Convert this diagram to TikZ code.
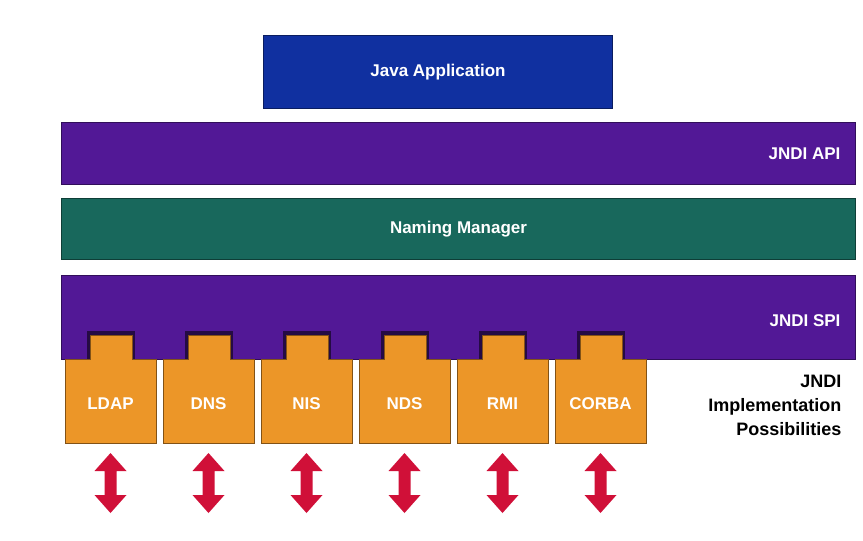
\documentclass[tikz,border=0pt]{standalone}
\usepackage{fontspec}
\setmainfont{Liberation Sans}
\usetikzlibrary{positioning}
\definecolor{javablue}{RGB}{16,48,160}
\definecolor{jndipurple}{RGB}{82,24,150}
\definecolor{nmteal}{RGB}{24,104,92}
\definecolor{provorange}{RGB}{236,150,40}
\definecolor{arrowred}{RGB}{208,16,56}

\begin{document}
\begin{tikzpicture}[
x=1pt, y=-1pt,
layer/.style={
draw=#1!60!black,
fill=#1,
line width=1pt,
rectangle,
anchor=north west,
inner sep=0pt,
font=\bfseries\fontsize{17}{20}\selectfont,
text=white
},
barlabel/.style={anchor=east, font=\bfseries\fontsize{17}{20}\selectfont, text=white},
provlabel/.style={font=\bfseries\fontsize{17}{20}\selectfont, text=white},
provblock/.style={draw=provorange!55!black, fill=provorange, line width=1pt}
]
\useasboundingbox (0,0) rectangle (863,541);

\node[layer=javablue, minimum width=349pt, minimum height=73pt] (app) at (263,35) {Java Application};
\node[layer=jndipurple, minimum width=794pt, minimum height=62pt] (api) at (61,122) {};
\node[barlabel] (apilabel) at ([xshift=-12pt]api.east) {JNDI API};
\node[layer=nmteal, minimum width=794pt, minimum height=61pt] (nm) at (61,198) {Naming Manager};
\node[layer=jndipurple, minimum width=794pt, minimum height=84pt] (spi) at (61,275) {};
\node[barlabel] (spilabel) at ([xshift=-12pt,yshift=-3pt]spi.east) {JNDI SPI};

% provider blocks with tabs plugged into the SPI
\foreach \name [count=\i from 0] in {LDAP,DNS,NIS,NDS,RMI,CORBA} {
\pgfmathsetmacro{\bx}{65+98*\i}
\fill[jndipurple!45!black] (\bx+22,331) rectangle (\bx+70,359);
\draw[provblock] (\bx,359) -- (\bx+25,359) -- (\bx+25,335) -- (\bx+67,335)
  -- (\bx+67,359) -- (\bx+91,359) -- (\bx+91,443) -- (\bx,443) -- cycle;
\node[provlabel] (\name) at (\bx+45.5,404) {\name};
% red double arrow below each block
\fill[arrowred] (\bx+45.5,453) -- (\bx+61.5,471) -- (\bx+51.5,471) -- (\bx+51.5,495)
  -- (\bx+61.5,495) -- (\bx+45.5,513) -- (\bx+29.5,495) -- (\bx+39.5,495)
  -- (\bx+39.5,471) -- (\bx+29.5,471) -- cycle;
}

\node[anchor=east, align=right, font=\bfseries\fontsize{18}{24}\selectfont] (impl) at (845,405) {JNDI\\Implementation\\Possibilities};
\end{tikzpicture}
\end{document}
